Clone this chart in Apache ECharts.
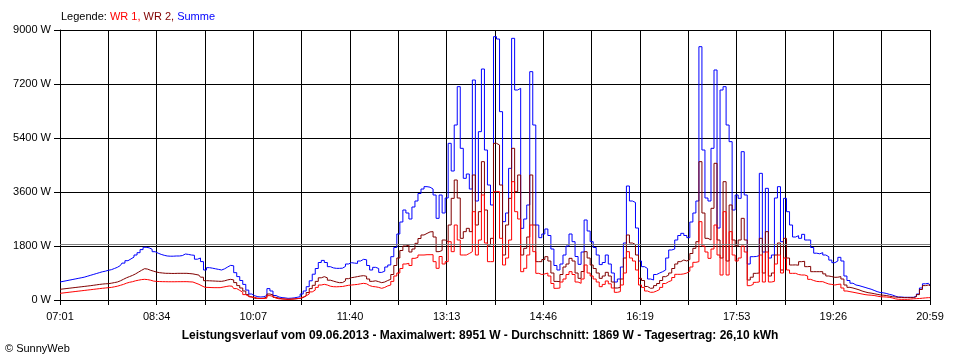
<!DOCTYPE html>
<html>
<head>
<meta charset="utf-8">
<script src="https://cdn.jsdelivr.net/npm/echarts@6/dist/echarts.min.js"></script>
<style>
html,body{margin:0;padding:0;background:#fff;}
#chart{width:960px;height:360px;}
</style>
</head>
<body>
<div id="chart"></div>
<script>
// x tick labels (every second grid division)
const tickLabels = ['07:01','08:34','10:07','11:40','13:13','14:46','16:19','17:53','19:26','20:59'];
// y axis ticks
const yTicks = [0, 1800, 3600, 5400, 7200, 9000];
// average power (gray reference line)
const avgValue = 1869;

// WR 1 (red), 289 samples from 07:01 to 20:59
const wr1 = [
222,234,246,258,270,282,294,306,318,330,342,354,366,378,390,400,
411,420,440,460,490,520,560,590,610,640,660,680,689,680,660,630,
620,615,611,610,608,608,608,610,610,611,611,605,600,560,522,470,
422,420,415,411,411,411,430,450,467,460,380,320,260,180,120,90,
90,50,50,50,60,145,120,60,40,35,30,25,30,35,45,55,
100,140,200,270,330,420,500,522,500,460,444,440,445,450,470,490,
500,510,520,540,555,540,480,450,440,420,389,420,470,500,620,800,
900,1050,1200,1222,1150,1389,1420,1500,1500,1510,1510,1510,1278,1056,1450,1200,
1278,1944,1611,2500,2000,1500,1500,1550,1611,2944,1500,2000,3500,1900,1278,1278,
3611,3611,2056,1167,1400,2000,3944,2944,2700,944,1056,1500,2500,1611,889,850,
870,900,800,550,389,400,600,700,850,944,850,600,556,700,1167,900,
800,700,600,444,520,633,540,400,256,280,500,900,1611,1400,1300,1000,
500,420,300,256,260,300,350,420,550,611,650,750,856,856,870,900,
960,1100,1256,1278,2611,1800,1600,1389,1700,2500,1500,833,2944,833,2278,1500,
1300,1400,1800,1600,478,520,589,600,1500,600,1600,600,620,1200,1500,900,
1400,1000,889,889,850,833,833,800,689,650,620,611,611,570,533,520,
500,520,530,400,300,278,260,240,220,200,180,167,160,150,130,111,
105,100,90,70,40,25,22,22,22,30,40,45,50,60,70,78,78
];

// WR 2 (dark red)
const wr2 = [
356,368,380,392,404,416,428,440,452,464,476,490,504,518,530,540,
544,560,580,600,640,690,740,780,820,870,930,990,1044,1030,990,960,
930,910,900,890,889,885,885,889,889,889,889,880,870,850,830,760,
644,640,635,630,625,622,640,670,689,670,580,480,400,300,180,110,
55,60,50,60,100,200,170,90,60,40,30,20,25,35,45,55,
80,140,250,380,490,620,740,778,740,660,630,600,578,580,640,710,
744,760,780,800,811,790,700,622,640,610,578,600,650,689,850,1150,
1400,1650,1800,1833,1600,1700,1889,2050,2167,2220,2270,2278,2100,1611,1650,2000,
1944,2500,3389,4000,3400,2056,2278,2389,2278,4167,2500,2944,4611,3000,1833,2056,
5222,5167,3833,1500,2500,3389,5056,3611,4167,1500,1722,2100,4167,2500,1278,1278,
1350,1444,1300,900,620,611,850,1100,1200,1389,1300,900,722,950,1611,1400,
1167,1050,900,722,800,922,800,600,400,420,700,1400,2167,1900,1850,1500,
722,650,450,389,400,480,550,650,778,830,900,1050,1200,1278,1333,1300,
1350,1550,1722,1944,4611,2900,2056,2000,3056,4556,2000,1400,3944,1300,3167,2000,
1800,2000,2722,2000,667,760,889,900,2056,900,2278,800,900,1500,1900,1000,
2056,1400,1167,1170,1160,1278,1290,1111,1120,944,944,944,944,870,800,780,
756,760,780,700,500,422,400,370,340,300,270,244,230,210,190,170,
160,150,130,110,100,90,85,80,80,80,80,110,180,350,480,500,480
];

// Summe (blue)
const summe = [
600,620,640,660,680,700,720,740,760,790,820,850,880,910,940,960,
990,1010,1050,1090,1150,1230,1310,1370,1430,1500,1577,1680,1757,1740,1690,1610,
1560,1520,1490,1467,1460,1460,1467,1467,1480,1533,1520,1500,1490,1360,1400,1280,
1000,1078,1060,1040,1020,1000,1040,1100,1155,1140,911,780,650,520,330,200,
140,110,100,110,150,380,300,150,100,80,70,55,60,70,90,110,
200,300,444,640,860,1050,1250,1320,1250,1111,1070,1055,1055,1060,1120,1200,
1244,1230,1220,1300,1356,1340,1150,1000,1089,1050,920,960,1100,1167,1444,1750,
2200,2600,3000,2900,2700,3100,3300,3550,3700,3778,3760,3700,3500,2722,3500,2900,
3400,5222,4300,5833,7111,5056,4056,4200,3700,7333,3300,5611,7700,5000,3833,3167,
8778,8700,6278,2611,2900,4389,8722,7000,7056,2389,2700,3167,7611,5833,2500,2078,
2200,2367,2150,1700,1150,1000,1200,1500,1800,2200,1944,1450,1189,1600,2667,2300,
1944,1750,1500,1180,1250,1500,1200,900,600,700,1100,1900,3800,3300,3250,2400,
1300,1111,1050,700,667,850,900,944,1000,1400,1667,1700,2000,2150,2222,2150,
2078,2600,2900,3300,8444,5000,3400,3300,5056,7667,2400,7000,7111,5833,5278,3000,
3500,3389,4944,3500,1200,1444,1450,1480,4222,1600,3722,1400,1500,3400,3778,1944,
3389,2944,2500,2100,2144,2056,2189,2000,2000,1750,1560,1540,1578,1500,1444,1330,
1244,1300,1422,1300,800,650,560,500,480,450,420,389,360,320,280,250,
240,220,190,167,130,100,100,90,90,90,90,120,200,400,540,556,500
];

const samplesPerDivision = 16;
const categories = summe.map((_, i) => i);
const FONT = '"Liberation Sans", Arial, sans-serif';

const chart = echarts.init(document.getElementById('chart'), null, {renderer: 'canvas'});
chart.setOption({
  animation: false,
  backgroundColor: '#ffffff',
  title: [
    {
      text: '{k|Legende: }{a|WR 1, }{b|WR 2, }{c|Summe}',
      left: 61, top: 11, padding: 0,
      textStyle: {
        fontFamily: FONT, fontSize: 11, fontWeight: 'normal',
        rich: {
          k: {color: '#000000', fontFamily: FONT, fontSize: 11},
          a: {color: '#ff0000', fontFamily: FONT, fontSize: 11},
          b: {color: '#800000', fontFamily: FONT, fontSize: 11},
          c: {color: '#0000ff', fontFamily: FONT, fontSize: 11}
        }
      }
    },
    {
      text: 'Leistungsverlauf vom 09.06.2013 - Maximalwert: 8951 W - Durchschnitt: 1869 W - Tagesertrag: 26,10 kWh',
      left: 'center', top: 330, padding: 0,
      textStyle: {fontFamily: FONT, fontSize: 12, fontWeight: 'bold', color: '#000'}
    },
    {
      text: '© SunnyWeb',
      left: 5, top: 343, padding: 0,
      textStyle: {fontFamily: FONT, fontSize: 11, fontWeight: 'normal', color: '#000'}
    }
  ],
  grid: {left: 60, right: 30, top: 30, bottom: 60},
  xAxis: {
    type: 'category',
    boundaryGap: false,
    data: categories,
    axisLine: {lineStyle: {color: '#000', width: 1}},
    axisTick: {show: true, interval: samplesPerDivision - 1, length: 5, lineStyle: {color: '#000'}},
    axisLabel: {
      interval: samplesPerDivision * 2 - 1,
      color: '#000', fontFamily: FONT, fontSize: 11, margin: 11,
      formatter: (v) => {
        const i = Number(v);
        return i % (samplesPerDivision * 2) === 0 ? tickLabels[i / (samplesPerDivision * 2)] : '';
      }
    },
    splitLine: {show: true, interval: samplesPerDivision - 1, lineStyle: {color: '#000', width: 1}}
  },
  yAxis: {
    type: 'value',
    min: yTicks[0], max: yTicks[yTicks.length - 1], interval: yTicks[1] - yTicks[0],
    axisLine: {show: true, lineStyle: {color: '#000', width: 1}},
    axisTick: {show: true, length: 6, lineStyle: {color: '#000'}},
    axisLabel: {formatter: (v) => String(v) + ' W', color: '#000', fontFamily: FONT, fontSize: 11, margin: 9},
    splitLine: {show: true, lineStyle: {color: '#000', width: 1}}
  },
  series: [
    {
      name: 'Summe', type: 'line', data: summe, step: 'middle', showSymbol: false, symbol: 'none',
      lineStyle: {color: '#0000ff', width: 1}, itemStyle: {color: '#0000ff'}
    },
    {
      name: 'WR 2', type: 'line', data: wr2, step: 'middle', showSymbol: false, symbol: 'none',
      lineStyle: {color: '#800000', width: 1}, itemStyle: {color: '#800000'}
    },
    {
      name: 'WR 1', type: 'line', data: wr1, step: 'middle', showSymbol: false, symbol: 'none',
      lineStyle: {color: '#ff0000', width: 1}, itemStyle: {color: '#ff0000'},
      markLine: {
        silent: true, symbol: 'none', label: {show: false},
        lineStyle: {color: '#808080', type: 'solid', width: 1},
        data: [{yAxis: avgValue}]
      }
    }
  ]
});
</script>
</body>
</html>
